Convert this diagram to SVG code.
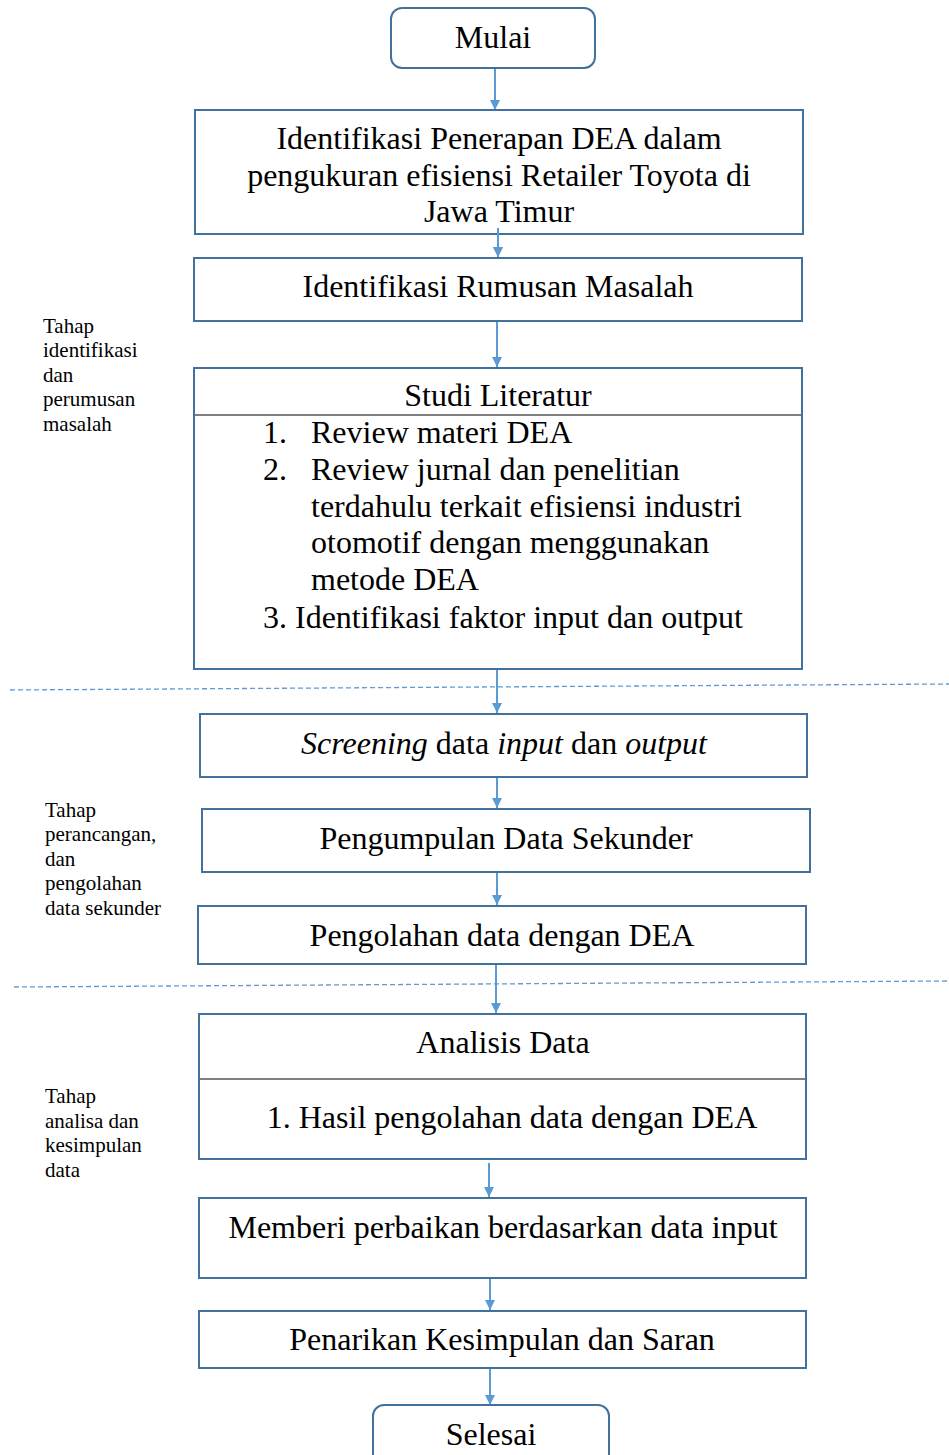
<svg xmlns="http://www.w3.org/2000/svg" width="949" height="1455" viewBox="0 0 949 1455">
  <style>
    .box { fill: #ffffff; stroke: #41719c; stroke-width: 2; }
    .t { font-family: "Liberation Serif", "Times New Roman", serif; font-size: 32px; fill: #000; }
    .c { text-anchor: middle; }
    .side { font-family: "Liberation Serif", "Times New Roman", serif; font-size: 21px; fill: #000; }
    .edge { stroke: #5b9bd5; stroke-width: 2; fill: none; marker-end: url(#ah); }
    .sep { stroke: #5b9bd5; stroke-width: 1.3; stroke-dasharray: 5 3; fill: none; }
    .rule { stroke: #000; stroke-width: 1; }
  </style>
  <defs>
    <marker id="ah" viewBox="0 0 10 10" refX="10" refY="5" markerWidth="5" markerHeight="5" orient="auto" markerUnits="strokeWidth">
      <path d="M0,0 L10,5 L0,10 z" fill="#5b9bd5"/>
    </marker>
  </defs>

  <!-- phase separators -->
  <g id="separators">
    <path class="sep" d="M10,690 L949,684"/>
    <path class="sep" d="M14,987 L949,981"/>
  </g>

  <!-- phase labels -->
  <g id="phase1">
    <text class="side" x="43" y="333">Tahap</text>
    <text class="side" x="43" y="357">identifikasi</text>
    <text class="side" x="43" y="382">dan</text>
    <text class="side" x="43" y="406">perumusan</text>
    <text class="side" x="43" y="431">masalah</text>
  </g>
  <g id="phase2">
    <text class="side" x="45" y="817">Tahap</text>
    <text class="side" x="45" y="841">perancangan,</text>
    <text class="side" x="45" y="866">dan</text>
    <text class="side" x="45" y="890">pengolahan</text>
    <text class="side" x="45" y="915">data sekunder</text>
  </g>
  <g id="phase3">
    <text class="side" x="45" y="1103">Tahap</text>
    <text class="side" x="45" y="1128">analisa dan</text>
    <text class="side" x="45" y="1152">kesimpulan</text>
    <text class="side" x="45" y="1177">data</text>
  </g>

  <!-- connectors -->
  <g id="connectors">
    <line class="edge" x1="495" y1="69" x2="495" y2="110"/>
    <line class="edge" x1="498" y1="228" x2="498" y2="257"/>
    <line class="edge" x1="497" y1="321" x2="497" y2="367"/>
    <line class="edge" x1="497" y1="669" x2="497" y2="713"/>
    <line class="edge" x1="497" y1="777" x2="497" y2="808"/>
    <line class="edge" x1="497" y1="872" x2="497" y2="905"/>
    <line class="edge" x1="496" y1="964" x2="496" y2="1013"/>
    <line class="edge" x1="489" y1="1163" x2="489" y2="1197"/>
    <line class="edge" x1="490" y1="1278" x2="490" y2="1310"/>
    <line class="edge" x1="490" y1="1368" x2="490" y2="1405"/>
  </g>

  <g id="start">
    <rect class="box" x="391" y="8" width="204" height="60" rx="11"/>
    <text class="t c" x="493" y="48">Mulai</text>
  </g>

  <g id="identifikasi-penerapan">
    <rect class="box" x="195" y="110" width="608" height="124"/>
    <text class="t c" x="499" y="149">Identifikasi Penerapan DEA dalam</text>
    <text class="t c" x="499" y="186">pengukuran efisiensi Retailer Toyota di</text>
    <text class="t c" x="499" y="222">Jawa Timur</text>
  </g>
  <!-- this arrow starts inside the box above, so it is drawn over it -->
  <line class="edge" x1="498" y1="228" x2="498" y2="257"/>

  <g id="rumusan-masalah">
    <rect class="box" x="194" y="258" width="608" height="63"/>
    <text class="t c" x="498" y="297">Identifikasi Rumusan Masalah</text>
  </g>

  <g id="studi-literatur">
    <rect class="box" x="194" y="368" width="608" height="301"/>
    <line class="rule" x1="195" y1="415" x2="801" y2="415"/>
    <text class="t c" x="498" y="406">Studi Literatur</text>
    <text class="t" x="263" y="443">1.</text>
    <text class="t" x="311" y="443">Review materi DEA</text>
    <text class="t" x="263" y="480">2.</text>
    <text class="t" x="311" y="480">Review jurnal dan penelitian</text>
    <text class="t" x="311" y="517">terdahulu terkait efisiensi industri</text>
    <text class="t" x="311" y="553">otomotif dengan menggunakan</text>
    <text class="t" x="311" y="590">metode DEA</text>
    <text class="t" x="263" y="628">3. Identifikasi faktor input dan output</text>
  </g>

  <g id="screening">
    <rect class="box" x="200" y="714" width="607" height="63"/>
    <text class="t c" x="504" y="754"><tspan font-style="italic">Screening</tspan> data <tspan font-style="italic">input</tspan> dan <tspan font-style="italic">output</tspan></text>
  </g>

  <g id="pengumpulan">
    <rect class="box" x="202" y="809" width="608" height="63"/>
    <text class="t c" x="506" y="849">Pengumpulan Data Sekunder</text>
  </g>

  <g id="pengolahan">
    <rect class="box" x="198" y="906" width="608" height="58"/>
    <text class="t c" x="502" y="946">Pengolahan data dengan DEA</text>
  </g>

  <g id="analisis">
    <rect class="box" x="199" y="1014" width="607" height="145"/>
    <line class="rule" x1="200" y1="1079" x2="805" y2="1079"/>
    <text class="t c" x="503" y="1053">Analisis Data</text>
    <text class="t c" x="512" y="1128">1. Hasil pengolahan data dengan DEA</text>
  </g>

  <g id="perbaikan">
    <rect class="box" x="199" y="1198" width="607" height="80"/>
    <text class="t c" x="503" y="1238">Memberi perbaikan berdasarkan data input</text>
  </g>

  <g id="kesimpulan">
    <rect class="box" x="199" y="1311" width="607" height="57"/>
    <text class="t c" x="502" y="1350">Penarikan Kesimpulan dan Saran</text>
  </g>

  <g id="end">
    <rect class="box" x="373" y="1405" width="236" height="64" rx="11"/>
    <text class="t c" x="491" y="1445">Selesai</text>
  </g>
</svg>
